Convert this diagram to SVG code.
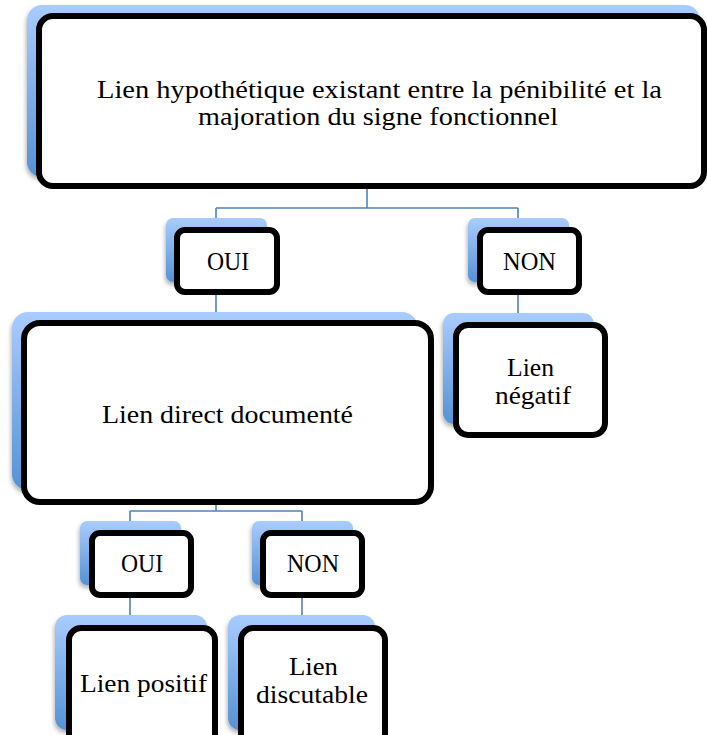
<svg xmlns="http://www.w3.org/2000/svg" width="707" height="735" viewBox="0 0 707 735">
  <defs>
    <linearGradient id="blueFill" x1="0" y1="0" x2="0" y2="1">
      <stop offset="0" stop-color="#a9ccfe"/>
      <stop offset="1" stop-color="#5592d6"/>
    </linearGradient>
    <filter id="softShadow" x="-10%" y="-10%" width="120%" height="130%">
      <feDropShadow dx="-1" dy="3" stdDeviation="2" flood-color="#000" flood-opacity="0.3"/>
    </filter>
  </defs>
  <style>
    .back { fill: url(#blueFill); filter: url(#softShadow); }
    .front { fill: #ffffff; stroke: #000000; stroke-width: 6; }
    .link { fill: none; stroke: #4f81bd; stroke-width: 1.6; }
    .label { font-family: "Liberation Serif", "DejaVu Serif", serif; font-size: 26px; fill: #000000; text-anchor: middle; }
  </style>

  <rect width="707" height="735" fill="#ffffff"/>

  <!-- tree connectors -->
  <g id="connectors">
    <path class="link" d="M367,186 V208 M216,208 H518 M216,208 V323 M518,208 V325"/>
    <path class="link" d="M216,502 V511 M130,511 H302 M130,511 V628 M302,511 V628"/>
  </g>

  <g id="node-root">
    <rect class="back" x="27" y="5" width="673" height="172" rx="15"/>
    <rect class="front" x="39" y="16" width="665" height="170" rx="14"/>
    <text class="label" x="379.5" y="98" textLength="565" lengthAdjust="spacingAndGlyphs">Lien hypothétique existant entre la pénibilité et la</text>
    <text class="label" x="378" y="125" textLength="360" lengthAdjust="spacingAndGlyphs">majoration du signe fonctionnel</text>
  </g>

  <g id="node-oui-1">
    <rect class="back" x="166" y="218" width="101" height="64" rx="7"/>
    <rect class="front" x="177" y="230" width="100" height="62" rx="8"/>
    <text class="label" x="228" y="270" textLength="42" lengthAdjust="spacingAndGlyphs">OUI</text>
  </g>

  <g id="node-non-1">
    <rect class="back" x="468" y="218" width="101" height="64" rx="7"/>
    <rect class="front" x="480" y="230" width="99" height="62" rx="8"/>
    <text class="label" x="529.5" y="270" textLength="53" lengthAdjust="spacingAndGlyphs">NON</text>
  </g>

  <g id="node-lien-negatif">
    <rect class="back" x="443" y="313" width="151" height="111" rx="11"/>
    <rect class="front" x="456" y="325" width="149" height="110" rx="12"/>
    <text class="label" x="530.5" y="376" textLength="47" lengthAdjust="spacingAndGlyphs">Lien</text>
    <text class="label" x="533" y="404" textLength="76" lengthAdjust="spacingAndGlyphs">négatif</text>
  </g>

  <g id="node-lien-direct">
    <rect class="back" x="12" y="312" width="406" height="178" rx="16"/>
    <rect class="front" x="24" y="323" width="407" height="179" rx="16"/>
    <text class="label" x="227.5" y="423" textLength="251" lengthAdjust="spacingAndGlyphs">Lien direct documenté</text>
  </g>

  <g id="node-oui-2">
    <rect class="back" x="80" y="521" width="101" height="64" rx="7"/>
    <rect class="front" x="92" y="533" width="99" height="62" rx="8"/>
    <text class="label" x="142" y="572" textLength="42" lengthAdjust="spacingAndGlyphs">OUI</text>
  </g>

  <g id="node-non-2">
    <rect class="back" x="252" y="521" width="101" height="64" rx="7"/>
    <rect class="front" x="263" y="533" width="99" height="62" rx="8"/>
    <text class="label" x="313" y="572" textLength="52" lengthAdjust="spacingAndGlyphs">NON</text>
  </g>

  <g id="node-lien-positif">
    <rect class="back" x="55" y="615" width="152" height="115" rx="12"/>
    <rect class="front" x="69" y="628" width="146" height="120" rx="12"/>
    <text class="label" x="143.5" y="692" textLength="127" lengthAdjust="spacingAndGlyphs">Lien positif</text>
  </g>

  <g id="node-lien-discutable">
    <rect class="back" x="228" y="615" width="147" height="115" rx="12"/>
    <rect class="front" x="241" y="628" width="144" height="120" rx="12"/>
    <text class="label" x="313.5" y="675" textLength="49" lengthAdjust="spacingAndGlyphs">Lien</text>
    <text class="label" x="312" y="703" textLength="112" lengthAdjust="spacingAndGlyphs">discutable</text>
  </g>
</svg>
